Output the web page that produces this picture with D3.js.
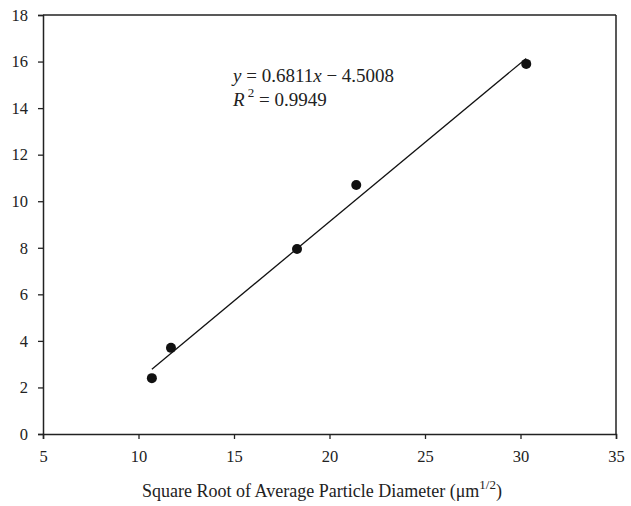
<!DOCTYPE html>
<html><head><meta charset="utf-8">
<script src="https://cdn.jsdelivr.net/npm/d3@7"></script>
<style>body{margin:0;background:#fff}</style>
</head><body>
<svg id="c" width="631" height="506"></svg>
<script>
const xData = [10.7, 11.7, 18.3, 21.4, 30.3];
const yData = [2.4, 3.7, 7.95, 10.7, 15.9];
const slope = 0.6811, intercept = -4.5008, r2 = 0.9949;
const xTicks = [5, 10, 15, 20, 25, 30, 35];
const yTicks = [0, 2, 4, 6, 8, 10, 12, 14, 16, 18];
const xLabel = "Square Root of Average Particle Diameter (μm";

const FONT = "Liberation Serif, Times New Roman, serif";
const svg = d3.select("#c").attr("font-family", FONT);
const L = 43, R = 616, T = 15, B = 434;
const x = d3.scaleLinear().domain([5, 35]).range([L, R]);
const y = d3.scaleLinear().domain([0, 18]).range([B, T]);

const gx = svg.append("g").attr("transform", `translate(0,${B})`)
  .call(d3.axisBottom(x).tickValues(xTicks).tickSize(5).tickPadding(11));
const gy = svg.append("g").attr("transform", `translate(${L},0)`)
  .call(d3.axisLeft(y).tickValues(yTicks).tickSize(5).tickPadding(10));
[gx, gy].forEach(g => {
  g.attr("font-family", FONT).attr("font-size", 16.5);
  g.select(".domain").attr("stroke", "#222").attr("stroke-width", 1.5);
  g.selectAll(".tick line").attr("stroke", "#222").attr("stroke-width", 1.3);
  g.selectAll(".tick text").attr("fill", "#222");
});
svg.append("line").attr("x1", L).attr("x2", R).attr("y1", T).attr("y2", T).attr("stroke", "#222").attr("stroke-width", 1.5);
svg.append("line").attr("x1", R).attr("x2", R).attr("y1", T).attr("y2", B).attr("stroke", "#222").attr("stroke-width", 1.5);

const x0 = d3.min(xData), x1 = d3.max(xData);
svg.append("line")
  .attr("x1", x(x0)).attr("y1", y(slope * x0 + intercept))
  .attr("x2", x(x1)).attr("y2", y(slope * x1 + intercept))
  .attr("stroke", "#111").attr("stroke-width", 1.3);

svg.selectAll("circle.pt").data(xData).join("circle").attr("class", "pt")
  .attr("cx", d => x(d)).attr("cy", (d, i) => y(yData[i])).attr("r", 5).attr("fill", "#111");

const eq = svg.append("text").attr("x", 233).attr("y", 82).attr("font-size", 19).attr("fill", "#222");
eq.append("tspan").attr("font-style", "italic").text("y");
eq.append("tspan").text(" = " + slope);
eq.append("tspan").attr("font-style", "italic").text("x");
eq.append("tspan").text(" − " + Math.abs(intercept).toFixed(4));
const eq2 = svg.append("text").attr("x", 233).attr("y", 106).attr("font-size", 19).attr("fill", "#222");
eq2.append("tspan").attr("font-style", "italic").text("R");
eq2.append("tspan").attr("dy", -9).attr("font-size", 13).text(" 2");
eq2.append("tspan").attr("dy", 9).text(" = " + r2);

const xl = svg.append("text").attr("x", 322).attr("y", 497).attr("text-anchor", "middle").attr("font-size", 18).attr("fill", "#222");
xl.append("tspan").text(xLabel);
xl.append("tspan").attr("dy", -8).attr("font-size", 13).text("1/2");
xl.append("tspan").attr("dy", 8).text(")");
</script>
</body></html>
